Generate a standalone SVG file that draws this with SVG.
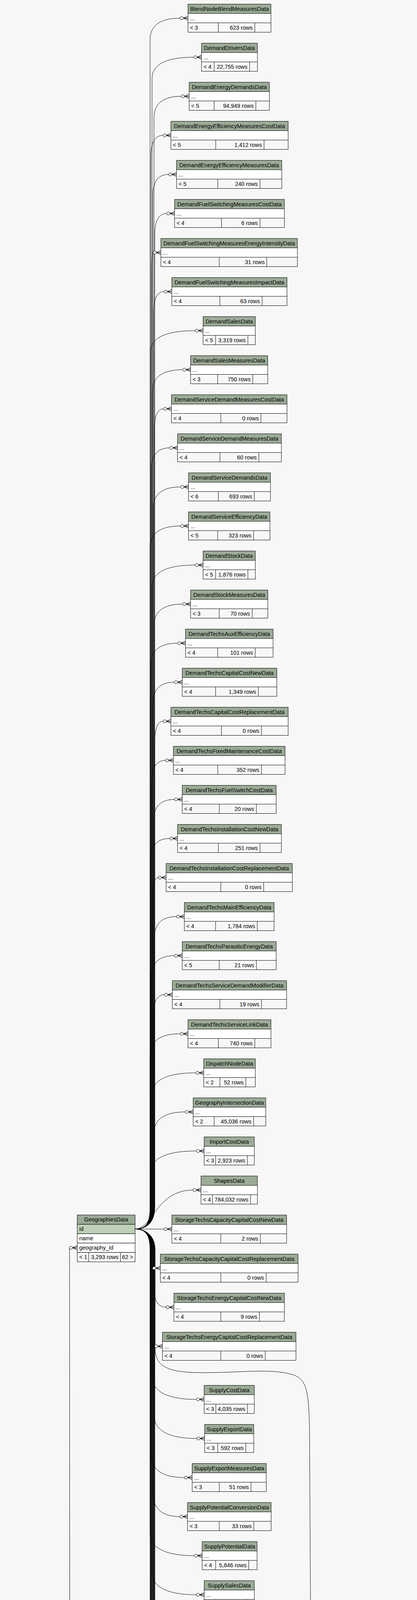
<svg xmlns="http://www.w3.org/2000/svg" xmlns:xlink="http://www.w3.org/1999/xlink" width="1067" height="6441" viewBox="0 0 1067 6441">
<style>
rect{stroke:#000;stroke-width:1}
rect.bg{stroke:none;fill:#f7f7f7}
.h{fill:#9bab96}.b{fill:#fff}.f{fill:#f7f7f7}.k{fill:#bed1b8}
text{font-family:"Liberation Sans",Arial,Helvetica,sans-serif;font-size:14.4px;fill:#000}
.m{text-anchor:middle}.r{text-anchor:end}
.d{stroke:#000;stroke-width:1;fill:none}
.e{fill:none;stroke:#000;stroke-width:1}
rect.ol{fill:none;stroke:#000;stroke-width:2.5}
</style>
<defs>
<g id="cf"><path d="M-12 0L0-5M-12 0H0M-12 0L0 5" fill="none" stroke="#000" stroke-width="1.3"/><circle cx="-16" cy="0" r="4" fill="#fff" stroke="#000"/></g>
<g id="zo"><path d="M-8 0H0M-4-5V5" fill="none" stroke="#000" stroke-width="1.5"/><circle cx="-12" cy="0" r="4" fill="#fff" stroke="#000"/></g>
</defs>
<rect class="bg" x="0" y="0" width="1067" height="6441"/>
<g id="connectors">
<path class="e" d="M345.7 3146.3C375 3146.3 384 3130 384 3090L384 101.5C384 64.5 411 46.5 461 46.5"/>
<path class="e" d="M345.7 3146.3C375 3146.3 389 3130 389 3090L389 201.5C389 164.5 426.3 146.5 495.7 146.5"/>
<path class="e" d="M345.7 3146.3C375 3146.3 394 3130 394 3090L394 301.5C394 264.5 418.5 246.5 464 246.5"/>
<path class="e" d="M345.7 3146.3C375 3146.3 386 3130 386 3090L386 401.5C386 364.5 397 346.5 417.3 346.5"/>
<path class="e" d="M345.7 3146.3C375 3146.3 391 3130 391 3090L391 501.5C391 464.5 405 446.5 431.7 446.5"/>
<path class="e" d="M345.7 3146.3C375 3146.3 396 3130 396 3090L396 601.5C396 564.5 406.7 546.5 426.7 546.5"/>
<path class="e" d="M345.7 3146.3C375 3146.3 388 3130 388 3090L388 701.5C388 664.5 389 646.5 391.7 646.5"/>
<path class="e" d="M345.7 3146.3C375 3146.3 393 3130 393 3090L393 801.5C393 764.5 402 746.5 419.7 746.5"/>
<path class="e" d="M345.7 3146.3C375 3146.3 385 3130 385 3090L385 901.5C385 864.5 425 846.5 499.7 846.5"/>
<path class="e" d="M345.7 3146.3C375 3146.3 390 3130 390 3090L390 1001.5C390 964.5 417 946.5 467.7 946.5"/>
<path class="e" d="M345.7 3146.3C375 3146.3 395 3130 395 3090L395 1101.5C395 1064.5 403 1046.5 418.7 1046.5"/>
<path class="e" d="M345.7 3146.3C375 3146.3 387 3130 387 3090L387 1201.5C387 1164.5 403.6 1146.5 434.3 1146.5"/>
<path class="e" d="M345.7 3146.3C375 3146.3 392 3130 392 3090L392 1301.5C392 1264.5 416.6 1246.5 462.3 1246.5"/>
<path class="e" d="M345.7 3146.3C375 3146.3 384 3130 384 3090L384 1401.5C384 1364.5 411.4 1346.5 462.3 1346.5"/>
<path class="e" d="M345.7 3146.3C375 3146.3 389 3130 389 3090L389 1501.5C389 1464.5 427.7 1446.5 499.7 1446.5"/>
<path class="e" d="M345.7 3146.3C375 3146.3 394 3130 394 3090L394 1601.5C394 1564.5 419.8 1546.5 467.7 1546.5"/>
<path class="e" d="M345.7 3146.3C375 3146.3 386 3130 386 3090L386 1701.5C386 1664.5 410 1646.5 454.7 1646.5"/>
<path class="e" d="M345.7 3146.3C375 3146.3 391 3130 391 3090L391 1801.5C391 1764.5 410.4 1746.5 446.3 1746.5"/>
<path class="e" d="M345.7 3146.3C375 3146.3 396 3130 396 3090L396 1901.5C396 1864.5 403.5 1846.5 417.3 1846.5"/>
<path class="e" d="M345.7 3146.3C375 3146.3 388 3130 388 3090L388 2001.5C388 1964.5 400.5 1946.5 423.7 1946.5"/>
<path class="e" d="M345.7 3146.3C375 3146.3 393 3130 393 3090L393 2101.5C393 2064.5 411.7 2046.5 446.3 2046.5"/>
<path class="e" d="M345.7 3146.3C375 3146.3 385 3130 385 3090L385 2201.5C385 2164.5 402.3 2146.5 434.3 2146.5"/>
<path class="e" d="M345.7 3146.3C375 3146.3 390 3130 390 3090L390 2301.5C390 2264.5 395.3 2246.5 405 2246.5"/>
<path class="e" d="M345.7 3146.3C375 3146.3 395 3130 395 3090L395 2401.5C395 2364.5 414.8 2346.5 451.7 2346.5"/>
<path class="e" d="M345.7 3146.3C375 3146.3 387 3130 387 3090L387 2501.5C387 2464.5 407.8 2446.5 446.3 2446.5"/>
<path class="e" d="M345.7 3146.3C375 3146.3 392 3130 392 3090L392 2601.5C392 2564.5 402.2 2546.5 421 2546.5"/>
<path class="e" d="M345.7 3146.3C375 3146.3 384 3130 384 3090L384 2701.5C384 2664.5 411 2646.5 461 2646.5"/>
<path class="e" d="M345.7 3146.3C375 3146.3 389 3130 389 3090L389 2801.5C389 2764.5 428.3 2746.5 501.3 2746.5"/>
<path class="e" d="M345.7 3146.3C375 3146.3 394 3130 394 3090L394 2901.5C394 2864.5 422.2 2846.5 474.3 2846.5"/>
<path class="e" d="M345.7 3146.3C375 3146.3 386 3130 386 3090L386 3001.5C386 2964.5 426.8 2946.5 502.3 2946.5"/>
<path class="e" d="M345.7 3146.3C390 3146.3 400 3046.5 494.3 3046.5"/>
<path class="e" d="M345.7 3146.3L419.7 3146.5"/>
<path class="e" d="M345.7 3146.3C378 3146.3 386 3170 387 3205C387.5 3235 388 3246.5 390.3 3246.5"/>
<path class="e" d="M345.7 3146.3C375 3146.3 393 3165 393 3200L393 3291.5C393 3328.5 404 3346.5 425 3346.5"/>
<path class="e" d="M345.7 3146.3C375 3146.3 385 3165 385 3200L385 3400C385 3435 388 3446.5 395.7 3446.5"/>
<path class="e" d="M345.7 3146.3C375 3146.3 390 3165 390 3200L390 3525.5C390 3562.5 429.3 3582.5 502.3 3582.5"/>
<path class="e" d="M345.7 3146.3C375 3146.3 395 3165 395 3200L395 3625.5C395 3662.5 433 3682.5 503.7 3682.5"/>
<path class="e" d="M345.7 3146.3C375 3146.3 387 3165 387 3200L387 3725.5C387 3762.5 416.6 3782.5 471.7 3782.5"/>
<path class="e" d="M345.7 3146.3C375 3146.3 392 3165 392 3200L392 3825.5C392 3862.5 415.8 3882.5 459.9 3882.5"/>
<path class="e" d="M345.7 3146.3C375 3146.3 384 3165 384 3200L384 3925.5C384 3962.5 423.6 3982.5 497.2 3982.5"/>
<path class="e" d="M345.7 3146.3C375 3146.3 389 3165 389 3200L389 4025.5C389 4062.5 428.7 4082.5 502.4 4082.5"/>
<path class="e" d="M345.7 3146.3C375 3146.3 394 3165 394 3200L394 4125.5C394 4162.5 422.1 4182.5 474.4 4182.5"/>
<path class="e" d="M345.7 3146.3C375 3146.3 386 3165 386 3200L386 4225.5C386 4262.5 410 4282.5 454.7 4282.5"/>
<path class="e" d="M345.7 3146.3C375 3146.3 391 3165 391 3200L391 4325.5C391 4362.5 420.2 4382.5 474.4 4382.5"/>
<path class="e" d="M345.7 3146.3C375 3146.3 396 3165 396 3200L396 4425.5C396 4462.5 416.5 4482.5 454.7 4482.5"/>
<path class="e" d="M345.7 3146.3C375 3146.3 388 3165 388 3200L388 4525.5C388 4562.5 410.3 4582.5 451.6 4582.5"/>
<path class="e" d="M345.7 3146.3C375 3146.3 393 3165 393 3200L393 4625.5C393 4662.5 403.4 4682.5 422.7 4682.5"/>
<path class="e" d="M345.7 3146.3C375 3146.3 385 3165 385 3200L385 4725.5C385 4762.5 412.1 4782.5 462.5 4782.5"/>
<path class="e" d="M345.7 3146.3C375 3146.3 390 3165 390 3200L390 4825.5C390 4862.5 404.2 4882.5 430.6 4882.5"/>
<path class="e" d="M345.7 3146.3C375 3146.3 395 3165 395 3200L395 4925.5C395 4962.5 410.7 4982.5 439.8 4982.5"/>
<path class="e" d="M345.7 3146.3C375 3146.3 387 3165 387 3200L387 5025.5C387 5062.5 395.6 5082.5 411.7 5082.5"/>
<path class="e" d="M345.7 3146.3C375 3146.3 392 3165 392 3200L392 5125.5C392 5162.5 402.7 5182.5 422.7 5182.5"/>
<path class="e" d="M345.7 3146.3C375 3146.3 384 3165 384 3200L384 5225.5C384 5262.5 426.8 5282.5 506.4 5282.5"/>
<path class="e" d="M345.7 3146.3C375 3146.3 389 3165 389 3200L389 5325.5C389 5362.5 425.5 5382.5 493.2 5382.5"/>
<path class="e" d="M345.7 3146.3C375 3146.3 394 3165 394 3200L394 5425.5C394 5462.5 427.8 5482.5 490.6 5482.5"/>
<path class="e" d="M345.7 3146.3C375 3146.3 386 3165 386 3200L386 5525.5C386 5562.5 421.2 5582.5 486.6 5582.5"/>
<path class="e" d="M345.7 3146.3C375 3146.3 391 3165 391 3200L391 5625.5C391 5662.5 428.6 5682.5 498.5 5682.5"/>
<path class="e" d="M345.7 3146.3C375 3146.3 396 3165 396 3200L396 5725.5C396 5762.5 423 5782.5 473.1 5782.5"/>
<path class="e" d="M345.7 3146.3C375 3146.3 388 3165 388 3200L388 5825.5C388 5862.5 419.6 5882.5 478.3 5882.5"/>
<path class="e" d="M345.7 3146.3C375 3146.3 393 3165 393 3200L393 5925.5C393 5962.5 426 5982.5 487.5 5982.5"/>
<path class="e" d="M345.7 3146.3C375 3146.3 385 3165 385 3200L385 6025.5C385 6062.5 403.2 6082.5 437.1 6082.5"/>
<path class="e" d="M345.7 3146.3C375 3146.3 397 3165 397 3200L397 3450C397 3500 430 3514 520 3514C620 3514 690 3503 745 3518C785 3528 790 3560 792 3660L798 4720C799 4800 800 4845 809.2 4845"/>
<path class="e" d="M690.7 6182.5C740 6182.5 776 6160 778 6100C782 5950 787 5600 787 5000C787 4900 795 4853 809.2 4853"/>
<path class="e" d="M339.3 5582.3C365 5582.3 372 5460 380 5360C390 5300 440 5282.5 506.4 5282.5"/>
<path class="e" d="M339.3 5582.3C368 5582.3 375 5500 385 5440C395 5395 440 5382.5 493.2 5382.5"/>
<path class="e" d="M339.3 5582.3C375 5582.3 385 5482.5 490.6 5482.5"/>
<path class="e" d="M339.3 5582.3L486.6 5582.5"/>
<path class="e" d="M339.3 5582.3C375 5582.3 385 5682.5 498.5 5682.5"/>
<path class="e" d="M339.3 5582.3C368 5582.3 375 5665 385 5725C395 5770 440 5782.5 473.1 5782.5"/>
<path class="e" d="M339.3 5582.3C365 5582.3 372 5705 380 5805C390 5865 440 5882.5 478.3 5882.5"/>
<path class="e" d="M339.3 5582.3C365 5582.3 372 5805 380 5905C390 5965 440 5982.5 487.5 5982.5"/>
<path class="e" d="M339.3 5582.3C365 5582.3 372 5905 380 6005C390 6065 400 6082.5 437.1 6082.5"/>
<path class="e" d="M339.3 5582.3C365 5582.3 372 6005 380 6105C390 6165 420 6182.5 467.4 6182.5"/>
<path class="e" d="M332.7 6020.5C370 6020.5 400 5886 478.3 5885.5"/>
<path class="e" d="M332.7 6020.5C372 6020.5 410 5890 478.3 5885.5"/>
<path class="e" d="M332.7 6020.5C370 6020.5 410 5985.5 487.5 5985.5"/>
<path class="e" d="M332.7 6020.5C365 6020.5 420 5988 487.5 5985.5"/>
<path class="e" d="M332.7 6020.5C375 6020.5 400 6085.5 437.1 6085.5"/>
<path class="e" d="M332.7 6020.5C365 6020.5 390 6080 437.1 6085.5"/>
<path class="e" d="M332.7 6020.5C370 6020.5 390 6100 420 6180C440 6235 450 6254.5 463.4 6254.5"/>
<path class="e" d="M332.7 6020.5C372 6020.5 395 6110 425 6190C445 6250 455 6278.5 463.4 6278.5"/>
<path class="e" d="M132.7 5582.3L182.7 5582.3"/>
<path class="e" d="M132.7 5582.3C162 5582.3 178 5540 179 5450L178 3225C178 3202 177 3194.3 177.7 3194.3"/>
<path class="e" d="M132.7 5582.3C170 5582.3 182 5620 182 5700C182 5800 166 5880 167 5980C168 6050 185 6075 230 6100C300 6140 360 6203 463.4 6206.5"/>
<use xlink:href="#cf" x="481" y="46.5"/>
<use xlink:href="#cf" x="515.7" y="146.5"/>
<use xlink:href="#cf" x="484" y="246.5"/>
<use xlink:href="#cf" x="437.3" y="346.5"/>
<use xlink:href="#cf" x="451.7" y="446.5"/>
<use xlink:href="#cf" x="446.7" y="546.5"/>
<use xlink:href="#cf" x="411.7" y="646.5"/>
<use xlink:href="#cf" x="439.7" y="746.5"/>
<use xlink:href="#cf" x="519.7" y="846.5"/>
<use xlink:href="#cf" x="487.7" y="946.5"/>
<use xlink:href="#cf" x="438.7" y="1046.5"/>
<use xlink:href="#cf" x="454.3" y="1146.5"/>
<use xlink:href="#cf" x="482.3" y="1246.5"/>
<use xlink:href="#cf" x="482.3" y="1346.5"/>
<use xlink:href="#cf" x="519.7" y="1446.5"/>
<use xlink:href="#cf" x="487.7" y="1546.5"/>
<use xlink:href="#cf" x="474.7" y="1646.5"/>
<use xlink:href="#cf" x="466.3" y="1746.5"/>
<use xlink:href="#cf" x="437.3" y="1846.5"/>
<use xlink:href="#cf" x="443.7" y="1946.5"/>
<use xlink:href="#cf" x="466.3" y="2046.5"/>
<use xlink:href="#cf" x="454.3" y="2146.5"/>
<use xlink:href="#cf" x="425" y="2246.5"/>
<use xlink:href="#cf" x="471.7" y="2346.5"/>
<use xlink:href="#cf" x="466.3" y="2446.5"/>
<use xlink:href="#cf" x="441" y="2546.5"/>
<use xlink:href="#cf" x="481" y="2646.5"/>
<use xlink:href="#cf" x="521.3" y="2746.5"/>
<use xlink:href="#cf" x="494.3" y="2846.5"/>
<use xlink:href="#cf" x="522.3" y="2946.5"/>
<use xlink:href="#cf" x="514.3" y="3046.5"/>
<use xlink:href="#cf" x="439.7" y="3146.5"/>
<use xlink:href="#cf" x="410.3" y="3246.5"/>
<use xlink:href="#cf" x="445" y="3346.5"/>
<use xlink:href="#cf" x="415.7" y="3446.5"/>
<use xlink:href="#cf" x="522.3" y="3582.5"/>
<use xlink:href="#cf" x="523.7" y="3682.5"/>
<use xlink:href="#cf" x="491.7" y="3782.5"/>
<use xlink:href="#cf" x="479.9" y="3882.5"/>
<use xlink:href="#cf" x="517.2" y="3982.5"/>
<use xlink:href="#cf" x="522.4" y="4082.5"/>
<use xlink:href="#cf" x="494.4" y="4182.5"/>
<use xlink:href="#cf" x="474.7" y="4282.5"/>
<use xlink:href="#cf" x="494.4" y="4382.5"/>
<use xlink:href="#cf" x="474.7" y="4482.5"/>
<use xlink:href="#cf" x="471.6" y="4582.5"/>
<use xlink:href="#cf" x="442.7" y="4682.5"/>
<use xlink:href="#cf" x="482.5" y="4782.5"/>
<use xlink:href="#cf" x="450.6" y="4882.5"/>
<use xlink:href="#cf" x="459.8" y="4982.5"/>
<use xlink:href="#cf" x="431.7" y="5082.5"/>
<use xlink:href="#cf" x="442.7" y="5182.5"/>
<use xlink:href="#cf" x="526.4" y="5282.5"/>
<use xlink:href="#cf" x="513.2" y="5382.5"/>
<use xlink:href="#cf" x="510.6" y="5482.5"/>
<use xlink:href="#cf" x="506.6" y="5582.5"/>
<use xlink:href="#cf" x="518.5" y="5682.5"/>
<use xlink:href="#cf" x="493.1" y="5782.5"/>
<use xlink:href="#cf" x="498.3" y="5882.5"/>
<use xlink:href="#cf" x="498.3" y="5885.5"/>
<use xlink:href="#cf" x="507.5" y="5982.5"/>
<use xlink:href="#cf" x="507.5" y="5985.5"/>
<use xlink:href="#cf" x="457.1" y="6082.5"/>
<use xlink:href="#cf" x="457.1" y="6085.5"/>
<use xlink:href="#zo" x="483.4" y="6182.5"/>
<use xlink:href="#cf" x="483.4" y="6206.5"/>
<use xlink:href="#cf" x="483.4" y="6254.5"/>
<use xlink:href="#cf" x="483.4" y="6278.5"/>
<use xlink:href="#cf" x="829.2" y="4845"/>
<use xlink:href="#cf" x="829.2" y="4853"/>
<use xlink:href="#cf" x="202.7" y="5582.3"/>
<use xlink:href="#cf" x="197.7" y="3194.3"/>
</g>
<g id="t0" transform="translate(0 10.5)"><rect class="h" x="481" width="212.3" height="24"/><rect class="b" x="481" y="24" width="212.3" height="24"/><rect class="f" x="481" y="48" width="212.3" height="24"/><path class="d" d="M558.7 48v24M652 48v24"/><text class="m" x="587.2" y="17">BlendNodeBlendMeasuresData</text><text x="486" y="41">...</text><text x="486" y="65">&lt; 3</text><text class="r" x="646.5" y="65">623 rows</text></g>
<g id="t1" transform="translate(0 110.5)"><rect class="h" x="515.7" width="143" height="24"/><rect class="b" x="515.7" y="24" width="143" height="24"/><rect class="f" x="515.7" y="48" width="143" height="24"/><path class="d" d="M548 48v24M638.7 48v24"/><text class="m" x="587.2" y="17">DemandDriversData</text><text x="520.7" y="41">...</text><text x="520.7" y="65">&lt; 4</text><text class="r" x="633.2" y="65">22,755 rows</text></g>
<g id="t2" transform="translate(0 210.5)"><rect class="h" x="484" width="205.3" height="24"/><rect class="b" x="484" y="24" width="205.3" height="24"/><rect class="f" x="484" y="48" width="205.3" height="24"/><path class="d" d="M548 48v24M654.7 48v24"/><text class="m" x="586.7" y="17">DemandEnergyDemandsData</text><text x="489" y="41">...</text><text x="489" y="65">&lt; 5</text><text class="r" x="649.2" y="65">94,949 rows</text></g>
<g id="t3" transform="translate(0 310.5)"><rect class="h" x="437.3" width="300" height="24"/><rect class="b" x="437.3" y="24" width="300" height="24"/><rect class="f" x="437.3" y="48" width="300" height="24"/><path class="d" d="M552 48v24M675.7 48v24"/><text class="m" x="587.3" y="17">DemandEnergyEfficiencyMeasuresCostData</text><text x="442.3" y="41">...</text><text x="442.3" y="65">&lt; 5</text><text class="r" x="670.2" y="65">1,412 rows</text></g>
<g id="t4" transform="translate(0 410.5)"><rect class="h" x="451.7" width="269.3" height="24"/><rect class="b" x="451.7" y="24" width="269.3" height="24"/><rect class="f" x="451.7" y="48" width="269.3" height="24"/><path class="d" d="M557.3 48v24M665.3 48v24"/><text class="m" x="586.4" y="17">DemandEnergyEfficiencyMeasuresData</text><text x="456.7" y="41">...</text><text x="456.7" y="65">&lt; 5</text><text class="r" x="659.8" y="65">240 rows</text></g>
<g id="t5" transform="translate(0 510.5)"><rect class="h" x="446.7" width="281" height="24"/><rect class="b" x="446.7" y="24" width="281" height="24"/><rect class="f" x="446.7" y="48" width="281" height="24"/><path class="d" d="M566.7 48v24M665.3 48v24"/><text class="m" x="587.2" y="17">DemandFuelSwitchingMeasuresCostData</text><text x="451.7" y="41">...</text><text x="451.7" y="65">&lt; 4</text><text class="r" x="659.8" y="65">6 rows</text></g>
<g id="t6" transform="translate(0 610.5)"><rect class="h" x="411.7" width="349.3" height="24"/><rect class="b" x="411.7" y="24" width="349.3" height="24"/><rect class="f" x="411.7" y="48" width="349.3" height="24"/><path class="d" d="M561 48v24M682.7 48v24"/><text class="m" x="586.4" y="17">DemandFuelSwitchingMeasuresEnergyIntensityData</text><text x="416.7" y="41">...</text><text x="416.7" y="65">&lt; 4</text><text class="r" x="677.2" y="65">31 rows</text></g>
<g id="t7" transform="translate(0 710.5)"><rect class="h" x="439.7" width="294.6" height="24"/><rect class="b" x="439.7" y="24" width="294.6" height="24"/><rect class="f" x="439.7" y="48" width="294.6" height="24"/><path class="d" d="M562.7 48v24M670.7 48v24"/><text class="m" x="587" y="17">DemandFuelSwitchingMeasuresImpactData</text><text x="444.7" y="41">...</text><text x="444.7" y="65">&lt; 4</text><text class="r" x="665.2" y="65">63 rows</text></g>
<g id="t8" transform="translate(0 810.5)"><rect class="h" x="519.7" width="133.6" height="24"/><rect class="b" x="519.7" y="24" width="133.6" height="24"/><rect class="f" x="519.7" y="48" width="133.6" height="24"/><path class="d" d="M551.7 48v24M634.3 48v24"/><text class="m" x="586.5" y="17">DemandSalesData</text><text x="524.7" y="41">...</text><text x="524.7" y="65">&lt; 5</text><text class="r" x="628.8" y="65">3,319 rows</text></g>
<g id="t9" transform="translate(0 910.5)"><rect class="h" x="487.7" width="197.3" height="24"/><rect class="b" x="487.7" y="24" width="197.3" height="24"/><rect class="f" x="487.7" y="48" width="197.3" height="24"/><path class="d" d="M557 48v24M646.7 48v24"/><text class="m" x="586.4" y="17">DemandSalesMeasuresData</text><text x="492.7" y="41">...</text><text x="492.7" y="65">&lt; 3</text><text class="r" x="641.2" y="65">750 rows</text></g>
<g id="t10" transform="translate(0 1010.5)"><rect class="h" x="438.7" width="295.6" height="24"/><rect class="b" x="438.7" y="24" width="295.6" height="24"/><rect class="f" x="438.7" y="48" width="295.6" height="24"/><path class="d" d="M565 48v24M667.7 48v24"/><text class="m" x="586.5" y="17">DemandServiceDemandMeasuresCostData</text><text x="443.7" y="41">...</text><text x="443.7" y="65">&lt; 4</text><text class="r" x="662.2" y="65">0 rows</text></g>
<g id="t11" transform="translate(0 1110.5)"><rect class="h" x="454.3" width="265.7" height="24"/><rect class="b" x="454.3" y="24" width="265.7" height="24"/><rect class="f" x="454.3" y="48" width="265.7" height="24"/><path class="d" d="M562.7 48v24M662.3 48v24"/><text class="m" x="587.2" y="17">DemandServiceDemandMeasuresData</text><text x="459.3" y="41">...</text><text x="459.3" y="65">&lt; 4</text><text class="r" x="656.8" y="65">60 rows</text></g>
<g id="t12" transform="translate(0 1210.5)"><rect class="h" x="482.3" width="209.7" height="24"/><rect class="b" x="482.3" y="24" width="209.7" height="24"/><rect class="f" x="482.3" y="48" width="209.7" height="24"/><path class="d" d="M558.7 48v24M650.7 48v24"/><text class="m" x="587.2" y="17">DemandServiceDemandsData</text><text x="487.3" y="41">...</text><text x="487.3" y="65">&lt; 6</text><text class="r" x="645.2" y="65">693 rows</text></g>
<g id="t13" transform="translate(0 1310.5)"><rect class="h" x="482.3" width="208.4" height="24"/><rect class="b" x="482.3" y="24" width="208.4" height="24"/><rect class="f" x="482.3" y="48" width="208.4" height="24"/><path class="d" d="M557 48v24M649 48v24"/><text class="m" x="586.5" y="17">DemandServiceEfficiencyData</text><text x="487.3" y="41">...</text><text x="487.3" y="65">&lt; 5</text><text class="r" x="643.5" y="65">323 rows</text></g>
<g id="t14" transform="translate(0 1410.5)"><rect class="h" x="519.7" width="133.6" height="24"/><rect class="b" x="519.7" y="24" width="133.6" height="24"/><rect class="f" x="519.7" y="48" width="133.6" height="24"/><path class="d" d="M551.7 48v24M634.3 48v24"/><text class="m" x="586.5" y="17">DemandStockData</text><text x="524.7" y="41">...</text><text x="524.7" y="65">&lt; 5</text><text class="r" x="628.8" y="65">1,876 rows</text></g>
<g id="t15" transform="translate(0 1510.5)"><rect class="h" x="487.7" width="197.6" height="24"/><rect class="b" x="487.7" y="24" width="197.6" height="24"/><rect class="f" x="487.7" y="48" width="197.6" height="24"/><path class="d" d="M561 48v24M645.3 48v24"/><text class="m" x="586.5" y="17">DemandStockMeasuresData</text><text x="492.7" y="41">...</text><text x="492.7" y="65">&lt; 3</text><text class="r" x="639.8" y="65">70 rows</text></g>
<g id="t16" transform="translate(0 1610.5)"><rect class="h" x="474.7" width="224" height="24"/><rect class="b" x="474.7" y="24" width="224" height="24"/><rect class="f" x="474.7" y="48" width="224" height="24"/><path class="d" d="M557 48v24M653 48v24"/><text class="m" x="586.7" y="17">DemandTechsAuxEfficiencyData</text><text x="479.7" y="41">...</text><text x="479.7" y="65">&lt; 4</text><text class="r" x="647.5" y="65">101 rows</text></g>
<g id="t17" transform="translate(0 1710.5)"><rect class="h" x="466.3" width="242" height="24"/><rect class="b" x="466.3" y="24" width="242" height="24"/><rect class="f" x="466.3" y="48" width="242" height="24"/><path class="d" d="M551.7 48v24M661 48v24"/><text class="m" x="587.3" y="17">DemandTechsCapitalCostNewData</text><text x="471.3" y="41">...</text><text x="471.3" y="65">&lt; 4</text><text class="r" x="655.5" y="65">1,349 rows</text></g>
<g id="t18" transform="translate(0 1810.5)"><rect class="h" x="437.3" width="300" height="24"/><rect class="b" x="437.3" y="24" width="300" height="24"/><rect class="f" x="437.3" y="48" width="300" height="24"/><path class="d" d="M566.7 48v24M669 48v24"/><text class="m" x="587.3" y="17">DemandTechsCapitalCostReplacementData</text><text x="442.3" y="41">...</text><text x="442.3" y="65">&lt; 4</text><text class="r" x="663.5" y="65">0 rows</text></g>
<g id="t19" transform="translate(0 1910.5)"><rect class="h" x="443.7" width="285.6" height="24"/><rect class="b" x="443.7" y="24" width="285.6" height="24"/><rect class="f" x="443.7" y="48" width="285.6" height="24"/><path class="d" d="M557 48v24M669 48v24"/><text class="m" x="586.5" y="17">DemandTechsFixedMaintenanceCostData</text><text x="448.7" y="41">...</text><text x="448.7" y="65">&lt; 4</text><text class="r" x="663.5" y="65">352 rows</text></g>
<g id="t20" transform="translate(0 2010.5)"><rect class="h" x="466.3" width="240.4" height="24"/><rect class="b" x="466.3" y="24" width="240.4" height="24"/><rect class="f" x="466.3" y="48" width="240.4" height="24"/><path class="d" d="M561 48v24M656 48v24"/><text class="m" x="586.5" y="17">DemandTechsFuelSwitchCostData</text><text x="471.3" y="41">...</text><text x="471.3" y="65">&lt; 4</text><text class="r" x="650.5" y="65">20 rows</text></g>
<g id="t21" transform="translate(0 2110.5)"><rect class="h" x="454.3" width="265.7" height="24"/><rect class="b" x="454.3" y="24" width="265.7" height="24"/><rect class="f" x="454.3" y="48" width="265.7" height="24"/><path class="d" d="M558.7 48v24M665.3 48v24"/><text class="m" x="587.2" y="17">DemandTechsInstallationCostNewData</text><text x="459.3" y="41">...</text><text x="459.3" y="65">&lt; 4</text><text class="r" x="659.8" y="65">251 rows</text></g>
<g id="t22" transform="translate(0 2210.5)"><rect class="h" x="425" width="323" height="24"/><rect class="b" x="425" y="24" width="323" height="24"/><rect class="f" x="425" y="48" width="323" height="24"/><path class="d" d="M565 48v24M674.7 48v24"/><text class="m" x="586.5" y="17">DemandTechsInstallationCostReplacementData</text><text x="430" y="41">...</text><text x="430" y="65">&lt; 4</text><text class="r" x="669.2" y="65">0 rows</text></g>
<g id="t23" transform="translate(0 2310.5)"><rect class="h" x="471.7" width="229.6" height="24"/><rect class="b" x="471.7" y="24" width="229.6" height="24"/><rect class="f" x="471.7" y="48" width="229.6" height="24"/><path class="d" d="M551.7 48v24M658.3 48v24"/><text class="m" x="586.5" y="17">DemandTechsMainEfficiencyData</text><text x="476.7" y="41">...</text><text x="476.7" y="65">&lt; 4</text><text class="r" x="652.8" y="65">1,784 rows</text></g>
<g id="t24" transform="translate(0 2410.5)"><rect class="h" x="466.3" width="240.4" height="24"/><rect class="b" x="466.3" y="24" width="240.4" height="24"/><rect class="f" x="466.3" y="48" width="240.4" height="24"/><path class="d" d="M561 48v24M656 48v24"/><text class="m" x="586.5" y="17">DemandTechsParasiticEnergyData</text><text x="471.3" y="41">...</text><text x="471.3" y="65">&lt; 5</text><text class="r" x="650.5" y="65">21 rows</text></g>
<g id="t25" transform="translate(0 2510.5)"><rect class="h" x="441" width="292.3" height="24"/><rect class="b" x="441" y="24" width="292.3" height="24"/><rect class="f" x="441" y="48" width="292.3" height="24"/><path class="d" d="M562.7 48v24M669 48v24"/><text class="m" x="587.2" y="17">DemandTechsServiceDemandModifierData</text><text x="446" y="41">...</text><text x="446" y="65">&lt; 4</text><text class="r" x="663.5" y="65">19 rows</text></g>
<g id="t26" transform="translate(0 2610.5)"><rect class="h" x="481" width="212.3" height="24"/><rect class="b" x="481" y="24" width="212.3" height="24"/><rect class="f" x="481" y="48" width="212.3" height="24"/><path class="d" d="M558.7 48v24M652 48v24"/><text class="m" x="587.2" y="17">DemandTechsServiceLinkData</text><text x="486" y="41">...</text><text x="486" y="65">&lt; 4</text><text class="r" x="646.5" y="65">740 rows</text></g>
<g id="t27" transform="translate(0 2710.5)"><rect class="h" x="521.3" width="132" height="24"/><rect class="b" x="521.3" y="24" width="132" height="24"/><rect class="f" x="521.3" y="48" width="132" height="24"/><path class="d" d="M562.7 48v24M629 48v24"/><text class="m" x="587.3" y="17">DispatchNodeData</text><text x="526.3" y="41">...</text><text x="526.3" y="65">&lt; 2</text><text class="r" x="623.5" y="65">52 rows</text></g>
<g id="t28" transform="translate(0 2810.5)"><rect class="h" x="494.3" width="185.7" height="24"/><rect class="b" x="494.3" y="24" width="185.7" height="24"/><rect class="f" x="494.3" y="48" width="185.7" height="24"/><path class="d" d="M548 48v24M649 48v24"/><text class="m" x="587.2" y="17">GeographyIntersectionData</text><text x="499.3" y="41">...</text><text x="499.3" y="65">&lt; 2</text><text class="r" x="643.5" y="65">45,036 rows</text></g>
<g id="t29" transform="translate(0 2910.5)"><rect class="h" x="522.3" width="128.4" height="24"/><rect class="b" x="522.3" y="24" width="128.4" height="24"/><rect class="f" x="522.3" y="48" width="128.4" height="24"/><path class="d" d="M551.7 48v24M633 48v24"/><text class="m" x="586.5" y="17">ImportCostData</text><text x="527.3" y="41">...</text><text x="527.3" y="65">&lt; 3</text><text class="r" x="627.5" y="65">2,923 rows</text></g>
<g id="t30" transform="translate(0 3010.5)"><rect class="h" x="514.3" width="144.4" height="24"/><rect class="b" x="514.3" y="24" width="144.4" height="24"/><rect class="f" x="514.3" y="48" width="144.4" height="24"/><path class="d" d="M543.7 48v24M641 48v24"/><text class="m" x="586.5" y="17">ShapesData</text><text x="519.3" y="41">...</text><text x="519.3" y="65">&lt; 4</text><text class="r" x="635.5" y="65">784,032 rows</text></g>
<g id="t31" transform="translate(0 3110.5)"><rect class="h" x="439.7" width="293.6" height="24"/><rect class="b" x="439.7" y="24" width="293.6" height="24"/><rect class="f" x="439.7" y="48" width="293.6" height="24"/><path class="d" d="M565 48v24M666.3 48v24"/><text class="m" x="586.5" y="17">StorageTechsCapacityCapitalCostNewData</text><text x="444.7" y="41">...</text><text x="444.7" y="65">&lt; 4</text><text class="r" x="660.8" y="65">2 rows</text></g>
<g id="t32" transform="translate(0 3210.5)"><rect class="h" x="410.3" width="352.4" height="24"/><rect class="b" x="410.3" y="24" width="352.4" height="24"/><rect class="f" x="410.3" y="48" width="352.4" height="24"/><path class="d" d="M565 48v24M681 48v24"/><text class="m" x="586.5" y="17">StorageTechsCapacityCapitalCostReplacementData</text><text x="415.3" y="41">...</text><text x="415.3" y="65">&lt; 4</text><text class="r" x="675.5" y="65">0 rows</text></g>
<g id="t33" transform="translate(0 3310.5)"><rect class="h" x="445" width="282.7" height="24"/><rect class="b" x="445" y="24" width="282.7" height="24"/><rect class="f" x="445" y="48" width="282.7" height="24"/><path class="d" d="M565 48v24M663.7 48v24"/><text class="m" x="586.4" y="17">StorageTechsEnergyCapitalCostNewData</text><text x="450" y="41">...</text><text x="450" y="65">&lt; 4</text><text class="r" x="658.2" y="65">9 rows</text></g>
<g id="t34" transform="translate(0 3410.5)"><rect class="h" x="415.7" width="341.6" height="24"/><rect class="b" x="415.7" y="24" width="341.6" height="24"/><rect class="f" x="415.7" y="48" width="341.6" height="24"/><path class="d" d="M565 48v24M678.7 48v24"/><text class="m" x="586.5" y="17">StorageTechsEnergyCapitalCostReplacementData</text><text x="420.7" y="41">...</text><text x="420.7" y="65">&lt; 4</text><text class="r" x="673.2" y="65">0 rows</text></g>
<g id="t35" transform="translate(0 3546.5)"><rect class="h" x="522.3" width="128.4" height="24"/><rect class="b" x="522.3" y="24" width="128.4" height="24"/><rect class="f" x="522.3" y="48" width="128.4" height="24"/><path class="d" d="M552.3 48v24M633 48v24"/><text class="m" x="586.5" y="17">SupplyCostData</text><text x="527.3" y="41">...</text><text x="527.3" y="65">&lt; 3</text><text class="r" x="627.5" y="65">4,035 rows</text></g>
<g id="t36" transform="translate(0 3646.5)"><rect class="h" x="523.7" width="125.6" height="24"/><rect class="b" x="523.7" y="24" width="125.6" height="24"/><rect class="f" x="523.7" y="48" width="125.6" height="24"/><path class="d" d="M557 48v24M629 48v24"/><text class="m" x="586.5" y="17">SupplyExportData</text><text x="528.7" y="41">...</text><text x="528.7" y="65">&lt; 3</text><text class="r" x="623.5" y="65">592 rows</text></g>
<g id="t37" transform="translate(0 3746.5)"><rect class="h" x="491.7" width="189.6" height="24"/><rect class="b" x="491.7" y="24" width="189.6" height="24"/><rect class="f" x="491.7" y="48" width="189.6" height="24"/><path class="d" d="M561 48v24M642.3 48v24"/><text class="m" x="586.5" y="17">SupplyExportMeasuresData</text><text x="496.7" y="41">...</text><text x="496.7" y="65">&lt; 3</text><text class="r" x="636.8" y="65">51 rows</text></g>
<g id="t38" transform="translate(0 3846.5)"><rect class="h" x="479.9" width="213.9" height="24"/><rect class="b" x="479.9" y="24" width="213.9" height="24"/><rect class="f" x="479.9" y="48" width="213.9" height="24"/><path class="d" d="M561 48v24M649.5 48v24"/><text class="m" x="586.9" y="17">SupplyPotentialConversionData</text><text x="484.9" y="41">...</text><text x="484.9" y="65">&lt; 3</text><text class="r" x="644" y="65">33 rows</text></g>
<g id="t39" transform="translate(0 3946.5)"><rect class="h" x="517.2" width="140.6" height="24"/><rect class="b" x="517.2" y="24" width="140.6" height="24"/><rect class="f" x="517.2" y="48" width="140.6" height="24"/><path class="d" d="M551.8 48v24M636.4 48v24"/><text class="m" x="587.5" y="17">SupplyPotentialData</text><text x="522.2" y="41">...</text><text x="522.2" y="65">&lt; 4</text><text class="r" x="630.9" y="65">5,846 rows</text></g>
<g id="t40" transform="translate(0 4046.5)"><rect class="h" x="522.4" width="128.4" height="24"/><rect class="b" x="522.4" y="24" width="128.4" height="24"/><rect class="f" x="522.4" y="48" width="128.4" height="24"/><path class="d" d="M551.8 48v24M633.3 48v24"/><text class="m" x="586.6" y="17">SupplySalesData</text><text x="527.4" y="41">...</text><text x="527.4" y="65">&lt; 4</text><text class="r" x="627.8" y="65">6,571 rows</text></g>
<g id="t41" transform="translate(0 4146.5)"><rect class="h" x="494.4" width="186.2" height="24"/><rect class="b" x="494.4" y="24" width="186.2" height="24"/><rect class="f" x="494.4" y="48" width="186.2" height="24"/><path class="d" d="M567.1 48v24M641.2 48v24"/><text class="m" x="587.5" y="17">SupplySalesMeasuresData</text><text x="499.4" y="41">...</text><text x="499.4" y="65">&lt; 4</text><text class="r" x="635.7" y="65">0 rows</text></g>
<g id="t42" transform="translate(0 4246.5)"><rect class="h" x="474.7" width="224.3" height="24"/><rect class="b" x="474.7" y="24" width="224.3" height="24"/><rect class="f" x="474.7" y="48" width="224.3" height="24"/><path class="d" d="M561 48v24M652.1 48v24"/><text class="m" x="586.9" y="17">SupplySalesShareMeasuresData</text><text x="479.7" y="41">...</text><text x="479.7" y="65">&lt; 4</text><text class="r" x="646.6" y="65">28 rows</text></g>
<g id="t43" transform="translate(0 4346.5)"><rect class="h" x="494.4" width="186.2" height="24"/><rect class="b" x="494.4" y="24" width="186.2" height="24"/><rect class="f" x="494.4" y="48" width="186.2" height="24"/><path class="d" d="M547.8 48v24M649.5 48v24"/><text class="m" x="587.5" y="17">SupplyStockMeasuresData</text><text x="499.4" y="41">...</text><text x="499.4" y="65">&lt; 4</text><text class="r" x="644" y="65">20,101 rows</text></g>
<g id="t44" transform="translate(0 4446.5)"><rect class="h" x="474.7" width="224.3" height="24"/><rect class="b" x="474.7" y="24" width="224.3" height="24"/><rect class="f" x="474.7" y="48" width="224.3" height="24"/><path class="d" d="M557 48v24M653 48v24"/><text class="m" x="586.9" y="17">SupplyTechsCapacityFactorData</text><text x="479.7" y="41">...</text><text x="479.7" y="65">&lt; 3</text><text class="r" x="647.5" y="65">392 rows</text></g>
<g id="t45" transform="translate(0 4546.5)"><rect class="h" x="471.6" width="230" height="24"/><rect class="b" x="471.6" y="24" width="230" height="24"/><rect class="f" x="471.6" y="48" width="230" height="24"/><path class="d" d="M557 48v24M654.8 48v24"/><text class="m" x="586.6" y="17">SupplyTechsCapitalCostNewData</text><text x="476.6" y="41">...</text><text x="476.6" y="65">&lt; 3</text><text class="r" x="649.3" y="65">944 rows</text></g>
<g id="t46" transform="translate(0 4646.5)"><rect class="h" x="442.7" width="288.3" height="24"/><rect class="b" x="442.7" y="24" width="288.3" height="24"/><rect class="f" x="442.7" y="48" width="288.3" height="24"/><path class="d" d="M569.3 48v24M664 48v24"/><text class="m" x="586.9" y="17">SupplyTechsCapitalCostReplacementData</text><text x="447.7" y="41">...</text><text x="447.7" y="65">&lt; 3</text><text class="r" x="658.5" y="65">1 row</text></g>
<g id="t47" transform="translate(0 4746.5)"><rect class="h" x="482.5" width="208.6" height="24"/><rect class="b" x="482.5" y="24" width="208.6" height="24"/><rect class="f" x="482.5" y="48" width="208.6" height="24"/><path class="d" d="M561 48v24M647.7 48v24"/><text class="m" x="586.8" y="17">SupplyTechsCO2CaptureData</text><text x="487.5" y="41">...</text><text x="487.5" y="65">&lt; 2</text><text class="r" x="642.2" y="65">28 rows</text></g>
<g id="t48" transform="translate(0 4846.5)"><rect class="h" x="450.6" width="273.8" height="24"/><rect class="b" x="450.6" y="24" width="273.8" height="24"/><rect class="f" x="450.6" y="48" width="273.8" height="24"/><path class="d" d="M558.8 48v24M666.6 48v24"/><text class="m" x="587.5" y="17">SupplyTechsFixedMaintenanceCostData</text><text x="455.6" y="41">...</text><text x="455.6" y="65">&lt; 3</text><text class="r" x="661.1" y="65">180 rows</text></g>
<g id="t49" transform="translate(0 4946.5)"><rect class="h" x="459.8" width="253.7" height="24"/><rect class="b" x="459.8" y="24" width="253.7" height="24"/><rect class="f" x="459.8" y="48" width="253.7" height="24"/><path class="d" d="M557 48v24M661.3 48v24"/><text class="m" x="586.7" y="17">SupplyTechsInstallationCostNewData</text><text x="464.8" y="41">...</text><text x="464.8" y="65">&lt; 3</text><text class="r" x="655.8" y="65">209 rows</text></g>
<g id="t50" transform="translate(0 5046.5)"><rect class="h" x="431.7" width="311.6" height="24"/><rect class="b" x="431.7" y="24" width="311.6" height="24"/><rect class="f" x="431.7" y="48" width="311.6" height="24"/><path class="d" d="M558.8 48v24M676.2 48v24"/><text class="m" x="587.5" y="17">SupplyTechsInstallationCostReplacementData</text><text x="436.7" y="41">...</text><text x="436.7" y="65">&lt; 3</text><text class="r" x="670.7" y="65">180 rows</text></g>
<g id="t51" transform="translate(0 5146.5)"><rect class="h" x="442.7" width="289.6" height="24"/><rect class="b" x="442.7" y="24" width="289.6" height="24"/><rect class="f" x="442.7" y="48" width="289.6" height="24"/><path class="d" d="M562.3 48v24M669.7 48v24"/><text class="m" x="587.5" y="17">SupplyTechsVariableMaintenanceCostData</text><text x="447.7" y="41">...</text><text x="447.7" y="65">&lt; 3</text><text class="r" x="664.2" y="65">68 rows</text></g>
<g id="t52" transform="translate(0 5246.5)"><rect class="h" x="526.4" width="121.8" height="24"/><rect class="b" x="526.4" y="24" width="121.8" height="24"/><rect class="f" x="526.4" y="48" width="121.8" height="24"/><path class="d" d="M558.8 48v24M628.9 48v24"/><text class="m" x="587.3" y="17">PrimaryCostData</text><text x="531.4" y="41">...</text><text x="531.4" y="65">&lt; 4</text><text class="r" x="623.4" y="65">848 rows</text></g>
<g id="t53" transform="translate(0 5346.5)"><rect class="h" x="513.2" width="146.8" height="24"/><rect class="b" x="513.2" y="24" width="146.8" height="24"/><rect class="f" x="513.2" y="48" width="146.8" height="24"/><path class="d" d="M551.8 48v24M637.7 48v24"/><text class="m" x="586.6" y="17">SupplyEfficiencyData</text><text x="518.2" y="41">...</text><text x="518.2" y="65">&lt; 5</text><text class="r" x="632.2" y="65">1,225 rows</text></g>
<g id="t54" transform="translate(0 5446.5)"><rect class="h" x="510.6" width="153.4" height="24"/><rect class="b" x="510.6" y="24" width="153.4" height="24"/><rect class="f" x="510.6" y="48" width="153.4" height="24"/><path class="d" d="M562.3 48v24M634.6 48v24"/><text class="m" x="587.3" y="17">SupplyEmissionsData</text><text x="515.6" y="41">...</text><text x="515.6" y="65">&lt; 6</text><text class="r" x="629.1" y="65">57 rows</text></g>
<g id="t55" transform="translate(0 5546.5)"><rect class="h" x="506.6" width="160.4" height="24"/><rect class="b" x="506.6" y="24" width="160.4" height="24"/><rect class="f" x="506.6" y="48" width="160.4" height="24"/><path class="d" d="M561 48v24M636.4 48v24"/><text class="m" x="586.8" y="17">SupplySalesShareData</text><text x="511.6" y="41">...</text><text x="511.6" y="65">&lt; 4</text><text class="r" x="630.9" y="65">13 rows</text></g>
<g id="t56" transform="translate(0 5646.5)"><rect class="h" x="518.5" width="136.3" height="24"/><rect class="b" x="518.5" y="24" width="136.3" height="24"/><rect class="f" x="518.5" y="48" width="136.3" height="24"/><path class="d" d="M547.8 48v24M637.7 48v24"/><text class="m" x="586.7" y="17">SupplyStockData</text><text x="523.5" y="41">...</text><text x="523.5" y="65">&lt; 4</text><text class="r" x="632.2" y="65">26,338 rows</text></g>
<g id="t57" transform="translate(0 5746.5)"><rect class="h" x="493.1" width="188.4" height="24"/><rect class="b" x="493.1" y="24" width="188.4" height="24"/><rect class="f" x="493.1" y="48" width="188.4" height="24"/><path class="d" d="M551.8 48v24M647.7 48v24"/><text class="m" x="587.3" y="17">SupplyTechsEfficiencyData</text><text x="498.1" y="41">...</text><text x="498.1" y="65">&lt; 5</text><text class="r" x="642.2" y="65">4,556 rows</text></g>
<g id="t58" transform="translate(0 5846.5)"><rect class="h" x="498.3" width="177.9" height="24"/><rect class="b" x="498.3" y="24" width="177.9" height="24"/><rect class="f" x="498.3" y="48" width="177.9" height="24"/><path class="d" d="M555.7 48v24M632 48v24"/><text class="m" x="587.3" y="17">SupplyTechsCO2Capture</text><text x="503.3" y="41">...</text><text x="503.3" y="65">&lt; 7</text><text class="r" x="626.5" y="65">28 rows</text><text class="r" x="670.7" y="65">1 &gt;</text></g>
<g id="t59" transform="translate(0 5946.5)"><rect class="h" x="507.5" width="157.8" height="24"/><rect class="b" x="507.5" y="24" width="157.8" height="24"/><rect class="f" x="507.5" y="48" width="157.8" height="24"/><path class="d" d="M551.8 48v24M628 48v24"/><text class="m" x="586.4" y="17">SupplyTechsEfficiency</text><text x="512.5" y="41">...</text><text x="512.5" y="65">&lt; 7</text><text class="r" x="622.5" y="65">113 rows</text><text class="r" x="659.8" y="65">1 &gt;</text></g>
<g id="t60" transform="translate(0 6046.5)"><rect class="h" x="457.1" width="259" height="24"/><rect class="b" x="457.1" y="24" width="259" height="24"/><rect class="f" x="457.1" y="48" width="259" height="24"/><path class="d" d="M555.7 48v24M652.1 48v24"/><text class="m" x="586.6" y="17">SupplyTechsVariableMaintenanceCost</text><text x="462.1" y="41">...</text><text x="462.1" y="65">&lt; 9</text><text class="r" x="646.6" y="65">81 rows</text><text class="r" x="710.6" y="65">1 &gt;</text></g>
<g id="t61" transform="translate(0 6146.5)"><rect class="h" x="483.4" width="207.3" height="24"/><rect class="k" x="483.4" y="24" width="207.3" height="24"/><rect class="b" x="483.4" y="48" width="207.3" height="24"/><rect class="b" x="483.4" y="72" width="207.3" height="24"/><rect class="b" x="483.4" y="96" width="207.3" height="24"/><rect class="b" x="483.4" y="120" width="207.3" height="24"/><rect class="b" x="483.4" y="144" width="207.3" height="24"/><rect class="b" x="483.4" y="168" width="207.3" height="24"/><rect class="b" x="483.4" y="192" width="207.3" height="24"/><rect class="f" x="483.4" y="216" width="207.3" height="24"/><path class="d" d="M559.7 216v24M637.2 216v24"/><text class="m" x="587.1" y="17">SupplyCapacityFactor</text><text x="488.4" y="41">supply_node_id</text><text x="488.4" y="65">geography_id</text><text x="488.4" y="89">unit</text><text x="488.4" y="113">interpolation_method</text><text x="488.4" y="137">extrapolation_method</text><text x="488.4" y="161">extrapolation_growth</text><text x="488.4" y="185">age_growth_or_decay_type_id</text><text x="488.4" y="209">age_growth_or_decay</text><text x="488.4" y="233">&lt; 4</text><text class="r" x="631.7" y="233">2 rows</text><text class="r" x="685.2" y="233">1 &gt;</text></g>
<g id="scfd" transform="translate(0 4799)"><rect class="h" x="829.2" width="220.4" height="26"/><rect class="b" x="829.2" y="26" width="131.4" height="24"/><rect class="b" x="960.6" y="26" width="89" height="24"/><rect class="b" x="829.2" y="50" width="131.4" height="24"/><rect class="b" x="960.6" y="50" width="89" height="24"/><rect class="b" x="829.2" y="74" width="131.4" height="24"/><rect class="b" x="960.6" y="74" width="89" height="24"/><rect class="b" x="829.2" y="98" width="131.4" height="24"/><rect class="b" x="960.6" y="98" width="89" height="24"/><rect class="b" x="829.2" y="122" width="131.4" height="24"/><rect class="b" x="960.6" y="122" width="89" height="24"/><rect class="b" x="829.2" y="146" width="131.4" height="24"/><rect class="b" x="960.6" y="146" width="89" height="24"/><rect class="k" x="829.2" y="170" width="131.4" height="24"/><rect class="b" x="960.6" y="170" width="89" height="24"/><rect class="f" x="829.2" y="194" width="220.4" height="24"/><path class="d" d="M882.6 194v24M960.6 194v24"/><rect class="ol" x="829.2" y="0" width="220.4" height="218"/><text class="m" x="939.4" y="18">SupplyCapacityFactorData</text><text x="834.2" y="43">supply_node_id</text><text x="965.6" y="43">int4[10]</text><text x="834.2" y="67">gau_id</text><text x="965.6" y="67">int4[10]</text><text x="834.2" y="91">demand_sector_id</text><text x="965.6" y="91">int4[10]</text><text x="834.2" y="115">resource_bin</text><text x="965.6" y="115">int4[10]</text><text x="834.2" y="139">year</text><text x="965.6" y="139">int4[10]</text><text x="834.2" y="163">value</text><text x="965.6" y="163">float8[17,17]</text><text x="834.2" y="187">id</text><text x="965.6" y="187">serial[10]</text><text x="834.2" y="211">&lt; 2</text><text class="r" x="955.6" y="211">5 rows</text><text class="r" x="1044.6" y="211">0 &gt;</text></g>
<g id="geographiesdata" transform="translate(0 3110.3)"><rect class="h" x="197.7" width="148" height="24"/><rect class="k" x="197.7" y="24" width="148" height="24"/><rect class="b" x="197.7" y="48" width="148" height="24"/><rect class="b" x="197.7" y="72" width="148" height="24"/><rect class="f" x="197.7" y="96" width="148" height="24"/><path class="d" d="M227 96v24M308.3 96v24"/><text class="m" x="271.7" y="17">GeographiesData</text><text x="202.7" y="41">id</text><text x="202.7" y="65">name</text><text x="202.7" y="89">geography_id</text><text x="202.7" y="113">&lt; 1</text><text class="r" x="303.3" y="113">3,293 rows</text><text class="r" x="340.7" y="113">62 &gt;</text></g>
<g id="geographies" transform="translate(0 5546.3)"><rect class="h" x="16.7" width="116" height="24"/><rect class="b" x="16.7" y="24" width="116" height="24"/><rect class="f" x="16.7" y="48" width="116" height="24"/><path class="d" d="M33.7 48v24M95.3 48v24"/><text class="m" x="74.7" y="17">Geographies</text><text x="21.7" y="41">...</text><text class="r" x="90.3" y="65">12 rows</text><text class="r" x="127.7" y="65">54 &gt;</text></g>
<g id="supplynodes" transform="translate(0 5546.3)"><rect class="h" x="202.7" width="136.6" height="24"/><rect class="b" x="202.7" y="24" width="136.6" height="24"/><rect class="f" x="202.7" y="48" width="136.6" height="24"/><path class="d" d="M232.3 48v24M301.7 48v24"/><text class="m" x="271" y="17">SupplyNodes</text><text x="207.7" y="41">...</text><text x="207.7" y="65">&lt; 7</text><text class="r" x="296.7" y="65">107 rows</text><text class="r" x="334.3" y="65">38 &gt;</text></g>
<g id="cleaningmethods" transform="translate(0 5984.5)"><rect class="h" x="211" width="121.7" height="24"/><rect class="b" x="211" y="24" width="121.7" height="24"/><rect class="f" x="211" y="48" width="121.7" height="24"/><path class="d" d="M231 48v24M285.7 48v24"/><text class="m" x="271.9" y="17">CleaningMethods</text><text x="216" y="41">...</text><text class="r" x="280.7" y="65">8 rows</text><text class="r" x="327.7" y="65">108 &gt;</text></g>
<text x="16.7" y="6425.5">Generated by SchemaSpy</text>
</svg>
